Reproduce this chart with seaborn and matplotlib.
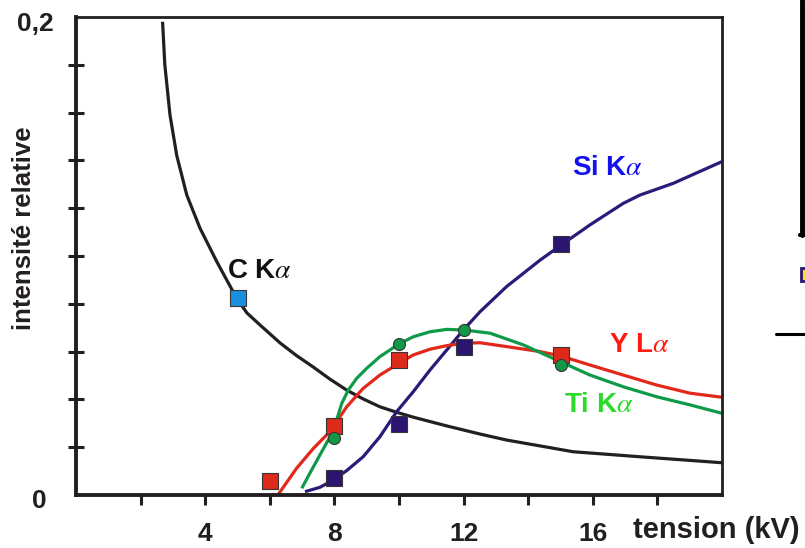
import matplotlib
matplotlib.use("Agg")
import matplotlib.pyplot as plt
import seaborn as sns
import pandas as pd
from matplotlib.patches import Rectangle
from matplotlib.lines import Line2D

# ---------------- data ----------------
c_x = [2.68, 2.75, 2.91, 3.12, 3.43, 3.84, 4.36, 4.97, 5.29, 5.70, 6.32, 6.83, 7.34,
       7.86, 8.38, 8.89, 9.41, 9.93, 10.43, 11.48, 12.51, 13.33, 15.39, 17.46, 20.0]
c_y = [0.198, 0.180, 0.159, 0.142, 0.1255, 0.1116, 0.0976, 0.0824, 0.0762, 0.0711,
       0.0636, 0.0583, 0.0536, 0.0485, 0.0439, 0.0402, 0.0369, 0.0346, 0.0326, 0.0289,
       0.0255, 0.0230, 0.0181, 0.0160, 0.0135]

si_x = [7.09, 7.55, 7.97, 8.38, 8.89, 9.41, 9.93, 10.44, 10.96, 11.48, 11.99, 12.51,
        13.33, 14.37, 14.98, 15.91, 16.94, 17.46, 18.49, 20.0]
si_y = [0.0014, 0.0032, 0.0063, 0.0102, 0.0160, 0.0244, 0.0349, 0.0432, 0.0523,
        0.0607, 0.0690, 0.0767, 0.0872, 0.0983, 0.1042, 0.1130, 0.1220, 0.1255,
        0.1304, 0.1395]

yl_x = [6.25, 6.83, 7.35, 7.86, 8.38, 8.89, 9.41, 10.0, 10.44, 10.96, 11.48, 11.99,
        12.51, 13.33, 14.37, 15.0, 15.91, 16.94, 17.98, 19.01, 20.0]
yl_y = [0.0, 0.0112, 0.0195, 0.0265, 0.0369, 0.0446, 0.0502, 0.0551, 0.0586, 0.0610,
        0.0625, 0.0635, 0.0637, 0.0621, 0.0600, 0.0582, 0.0544, 0.0502, 0.0460,
        0.0426, 0.0409]

ti_x = [6.99, 7.24, 7.55, 7.81, 8.07, 8.23, 8.43, 8.69, 9.0, 9.41, 10.0, 10.44, 10.96,
        11.48, 12.04, 12.82, 13.85, 14.88, 15.91, 16.94, 17.98, 19.01, 20.0]
ti_y = [0.0028, 0.0091, 0.0167, 0.0230, 0.0314, 0.0384, 0.0439, 0.0488, 0.0530,
        0.0579, 0.0632, 0.0662, 0.0683, 0.0693, 0.0690, 0.0677, 0.0628, 0.0565,
        0.0502, 0.0453, 0.0411, 0.0377, 0.0342]

# measured points (markers)
c_pts_x, c_pts_y = [5], [0.0824]
si_pts_x, si_pts_y = [8, 10, 12, 15], [0.0072, 0.0296, 0.0619, 0.1050]
yl_pts_x, yl_pts_y = [6, 8, 10, 15], [0.0060, 0.0290, 0.0565, 0.0586]
ti_pts_x, ti_pts_y = [8, 10, 12, 15], [0.0240, 0.0632, 0.0690, 0.0544]

x_major = [4, 8, 12, 16]
x_major_labels = ["4", "8", "12", "16"]
x_minor = [2, 6, 10, 14, 18]
y_minor = [0.02, 0.04, 0.06, 0.08, 0.10, 0.12, 0.14, 0.16, 0.18]
y_labels = {0.0: "0", 0.2: "0,2"}

labels = ["C K$\\alpha$", "Si K$\\alpha$", "Y L$\\alpha$", "Ti K$\\alpha$"]

# ---------------- style ----------------
sns.set_style("white")
plt.rcParams["font.family"] = ["Liberation Sans", "DejaVu Sans"]
plt.rcParams["mathtext.fontset"] = "stix"

W, H = 805, 548
fig = plt.figure(figsize=(W / 100, H / 100), dpi=100)
L, R, T, B = 76, 722, 17, 495
ax = fig.add_axes([L / W, 1 - B / H, (R - L) / W, (B - T) / H])

DARK = "#231f20"
col_c, col_si, col_yl, col_ti = DARK, "#2b1a78", "#e2281b", "#0f9a48"

curves = [(c_x, c_y, col_c), (si_x, si_y, col_si), (yl_x, yl_y, col_yl), (ti_x, ti_y, col_ti)]
for xs, ys, col in curves:
    df = pd.DataFrame({"x": xs, "y": ys})
    sns.lineplot(data=df, x="x", y="y", ax=ax, color=col, linewidth=2.3,
                 sort=False, estimator=None, zorder=2)
for ln in ax.get_lines():
    ln.set_solid_joinstyle("round")
    ln.set_solid_capstyle("butt")

ec = "#3a3535"
pts = [(c_pts_x, c_pts_y, "#1a8fe0", "s", 120),
       (si_pts_x, si_pts_y, "#2a1670", "s", 120),
       (yl_pts_x, yl_pts_y, "#dd2a1b", "s", 120),
       (ti_pts_x, ti_pts_y, "#109848", "o", 75)]
for xs, ys, col, mk, s in pts:
    df = pd.DataFrame({"x": xs, "y": ys})
    sns.scatterplot(data=df, x="x", y="y", ax=ax, color=col, marker=mk, s=s,
                    edgecolor=ec, linewidth=0.8, zorder=4, clip_on=False)

ax.set_xlim(0, 20)
ax.set_ylim(0, 0.2)
ax.set_xlabel("")
ax.set_ylabel("")

for side in ["left", "bottom"]:
    ax.spines[side].set_linewidth(2.8)
    ax.spines[side].set_color(DARK)
for side in ["top", "right"]:
    ax.spines[side].set_linewidth(2.0)
    ax.spines[side].set_color(DARK)

ax.set_xticks(x_major)
ax.set_xticklabels(x_major_labels)
ax.set_xticks(x_minor, minor=True)
ax.tick_params(axis="x", which="both", direction="out", length=7.5, width=2.2,
               color=DARK, bottom=True)
ax.tick_params(axis="x", which="major", labelsize=19, pad=12)
for lab in ax.get_xticklabels():
    lab.set_fontweight("bold")
    lab.set_color(DARK)

ax.set_yticks([])
ax.set_yticks(y_minor, minor=True)
ax.yaxis.set_minor_formatter(plt.NullFormatter())
ax.tick_params(axis="y", which="minor", direction="inout", length=11, width=2.2,
               color=DARK, left=True)


def ftext(px, py, s, **kw):
    fig.text(px / W, 1 - py / H, s, **kw)


# y tick labels (no ticks at the ends)
ftext(54, 24, y_labels[0.2], ha="right", va="center", fontsize=19, fontweight="bold", color=DARK)
ftext(47, 501, y_labels[0.0], ha="right", va="center", fontsize=19, fontweight="bold", color=DARK)

# axis titles
ftext(24, 228, "intensité relative", rotation=90, ha="center", va="center",
      fontsize=18.5, fontweight="bold", color=DARK)
ftext(633, 530, "tension (kV)", ha="left", va="center", fontsize=21,
      fontweight="bold", color=DARK)

# curve labels
ftext(260, 271, labels[0], ha="center", va="center", fontsize=20, fontweight="bold", color="#111111")
ftext(608, 168, labels[1], ha="center", va="center", fontsize=20, fontweight="bold", color="#1212f0")
ftext(639, 345, labels[2], ha="center", va="center", fontsize=20, fontweight="bold", color="#ff1a12")
ftext(599, 405, labels[3], ha="center", va="center", fontsize=20, fontweight="bold", color="#28dc28")

# clipped neighbouring panel pieces on the right edge
fig.add_artist(Line2D([801.5 / W, 801.5 / W], [1, 1 - 235 / H], transform=fig.transFigure,
                      color="black", linewidth=3.5))
fig.add_artist(Line2D([800 / W, 1], [1 - 235 / H, 1 - 235 / H], transform=fig.transFigure,
                      color="black", linewidth=3.0))
fig.add_artist(Rectangle((801 / W, 1 - 281 / H), 6 / W, 13 / H, transform=fig.transFigure,
                         facecolor="#f4e21a", edgecolor="#2a1670", linewidth=2))
fig.add_artist(Line2D([776 / W, 1], [1 - 334 / H, 1 - 334 / H], transform=fig.transFigure,
                      color="black", linewidth=2.2))

fig.savefig("out.png", dpi=100)
